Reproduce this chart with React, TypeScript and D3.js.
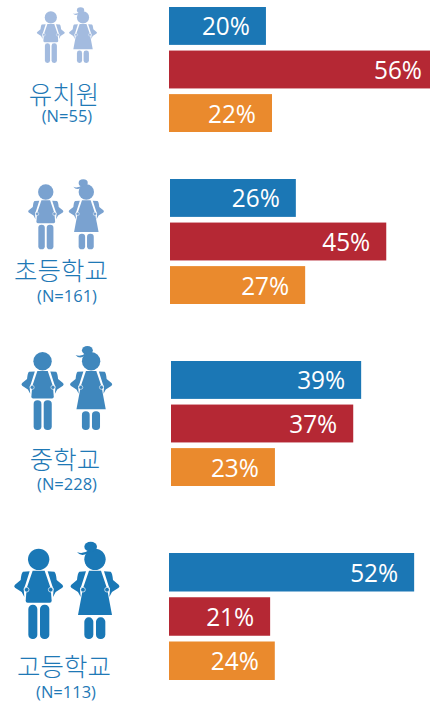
import React from "react";
import * as d3 from "d3";

const width = 430;
const height = 705;

const stages = ["유치원", "초등학교", "중학교", "고등학교"];
const sampleSizes = [55, 161, 228, 113];
const series = ["a", "b", "c"];
const seriesColors = ["#1b77b5", "#b52834", "#ea8a2d"];

// printed percentages
const labelsA = [20, 26, 39, 52];
const labelsB = [56, 45, 37, 21];
const labelsC = [22, 27, 23, 24];

// bar lengths, they don't quite follow the printed numbers
const lengthsA = [20.8, 27.0, 40.8, 52.6];
const lengthsB = [56.0, 46.4, 39.1, 21.7];
const lengthsC = [22.1, 29.0, 22.3, 22.7];

const iconColors = ["#a3bbdf", "#7aa2d0", "#3f87bd", "#1a78b6"];
const textColor = "#1f79b6";

// layout per group
const barLeft = [169, 170, 171, 169];
const barTop = [7, 179, 361, 553];
const barBottom = [132, 304, 486, 680];
const iconLeft = [36.7, 28, 21.3, 14];
const iconTop = [7.3, 179.3, 346, 541.7];
const iconScale = [0.572, 0.72, 0.862, 1];
const nameX = [64, 61, 65, 64];
const nameY = [104, 280, 469, 676];
const subX = [67, 67, 67, 66];
const subY = [122, 302, 490, 698];

const x = d3.scaleLinear().domain([0, 56]).range([0, 261]);
const color = d3.scaleOrdinal<string, string>().domain(series).range(seriesColors);

const ARM =
  "M-47 125 L-27 124 L-41 168 L-45 176 L-43 201 L-51 186 L-71 173 Q-76 168 -71 164 L-54 150 Q-52 128 -47 125 Z";

function Arms() {
  return (
    <>
      <path d={ARM} />
      <path d={ARM} transform="scale(-1,1)" />
      <circle cx={-36} cy={179} r={7} stroke="#fff" strokeWidth={2} />
      <circle cx={36} cy={179} r={7} stroke="#fff" strokeWidth={2} />
    </>
  );
}

function Kids({ fill }: { fill: string }) {
  const hair = d3.path();
  hair.moveTo(-54, 66);
  hair.quadraticCurveTo(-42, 82, -22, 70);
  hair.lineTo(-14, 58);
  hair.quadraticCurveTo(-36, 74, -54, 66);
  hair.closePath();
  return (
    <g fill={fill} transform="scale(0.3333) translate(-42,-35)">
      <g transform="translate(116,0)">
        <circle cx={0} cy={88} r={32} />
        <path d="M-18 122 L18 122 L36 175 L39 212 Q39 218 33 218 L-33 218 Q-39 218 -39 212 L-36 175 Z" />
        <Arms />
        <rect x={-31} y={224} width={27} height={103} rx={13} />
        <rect x={4} y={224} width={28} height={103} rx={13} />
      </g>
      <g transform="translate(285,0)">
        <circle cx={0} cy={88} r={32} />
        <ellipse cx={-13} cy={50} rx={19} ry={15} />
        <path d={hair.toString()} />
        <path d="M-18 122 L18 122 L36 175 L51 255 L-51 255 L-36 175 Z" />
        <Arms />
        <rect x={-32} y={262} width={27} height={65} rx={13} />
        <rect x={3} y={262} width={28} height={65} rx={13} />
      </g>
    </g>
  );
}

export default function App() {
  return (
    <svg
      width={width}
      height={height}
      style={{ position: "absolute", left: 0, top: 0, background: "#fff" }}
    >
      {stages.map((stage, i) => {
        const y = d3
          .scaleBand()
          .domain(series)
          .range([barTop[i], barBottom[i]])
          .paddingInner(0.13);
        const lengths = [lengthsA[i], lengthsB[i], lengthsC[i]];
        const labels = [labelsA[i], labelsB[i], labelsC[i]];
        return (
          <g key={stage}>
            <g transform={`translate(${iconLeft[i]},${iconTop[i]}) scale(${iconScale[i]})`}>
              <Kids fill={iconColors[i]} />
            </g>
            <text
              x={nameX[i]}
              y={nameY[i]}
              textAnchor="middle"
              fontFamily="'Noto Sans CJK KR'"
              fontSize={25.5}
              fontWeight={300}
              fill={textColor}
            >
              {stage}
            </text>
            <text
              x={subX[i]}
              y={subY[i]}
              textAnchor="middle"
              fontFamily="'Open Sans'"
              fontSize={16.5}
              fill={textColor}
            >
              (N={sampleSizes[i]})
            </text>
            {series.map((s, j) => {
              const end = barLeft[i] + x(lengths[j]);
              // the bar that runs to the page edge has its label pushed further right
              const gap = end >= width ? 8 : 16;
              return (
                <g key={s}>
                  <rect
                    x={barLeft[i]}
                    y={y(s)}
                    width={x(lengths[j])}
                    height={y.bandwidth()}
                    fill={color(s)}
                  />
                  <text
                    x={end - gap}
                    y={(y(s) as number) + y.bandwidth() / 2 + 9.5}
                    textAnchor="end"
                    fontFamily="'Open Sans'"
                    fontSize={26}
                    textLength={48}
                    lengthAdjust="spacingAndGlyphs"
                    fill="#fff"
                  >
                    {labels[j]}%
                  </text>
                </g>
              );
            })}
          </g>
        );
      })}
    </svg>
  );
}
